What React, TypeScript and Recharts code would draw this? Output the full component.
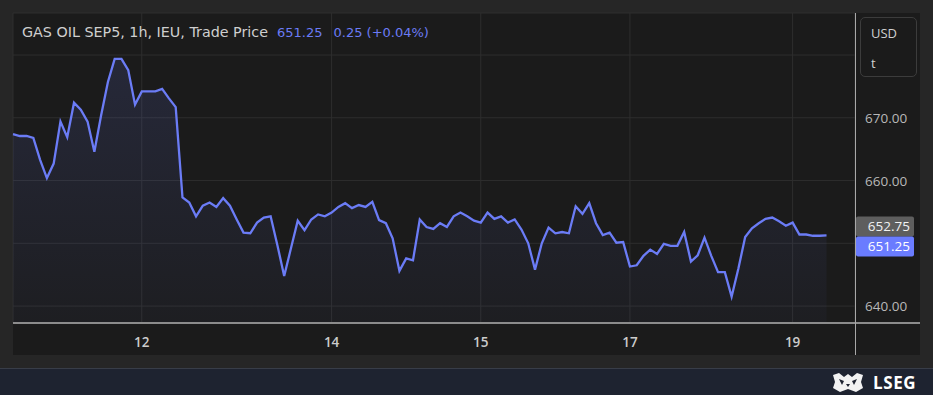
import React from "react";
import { AreaChart, Area, XAxis, YAxis, CartesianGrid, ReferenceLine } from "recharts";

// hourly trade prices, GAS OIL SEP5
const prices: number[] = [
  667.4, 667.1, 667.1, 666.8, 663.3, 660.4, 662.7, 669.4, 666.9, 672.4,
  671.3, 669.4, 664.6, 670.4, 675.7, 679.4, 679.4, 677.6, 672.1, 674.2,
  674.2, 674.2, 674.6, 673.1, 671.7, 657.3, 656.5, 654.3, 656.0, 656.5,
  655.8, 657.2, 656.0, 653.8, 651.7, 651.6, 653.3, 654.1, 654.3, 649.7,
  644.8, 649.2, 653.6, 652.1, 653.8, 654.6, 654.3, 654.9, 655.8, 656.4,
  655.6, 656.1, 655.8, 656.6, 653.7, 653.2, 650.8, 645.6, 647.6, 647.3,
  653.8, 652.6, 652.3, 653.2, 652.6, 654.3, 654.9, 654.3, 653.6, 653.3,
  654.9, 653.9, 654.3, 653.3, 653.8, 652.2, 650.0, 645.8, 650.0, 652.5,
  651.6, 651.8, 651.6, 655.9, 654.7, 656.4, 653.2, 651.3, 651.7, 650.1,
  650.2, 646.3, 646.5, 648.0, 649.0, 648.3, 649.9, 649.6, 649.6, 651.8,
  647.1, 648.1, 650.9, 648.0, 645.4, 645.4, 641.5, 646.0, 651.0, 652.4,
  653.2, 653.9, 654.1, 653.5, 652.8, 653.3, 651.4, 651.4, 651.2, 651.2,
  651.25,
];

const dayTickIndex = [19, 47, 69, 91, 115];
const dayTickLabels = ["12", "14", "15", "17", "19"];
const priceTicks = [640, 650, 660, 670, 680];
const shownPriceTicks = [640, 660, 670];

const lastPrice = 651.25;
const refPrice = 652.75;
const change = 0.25;
const changePct = 0.04;

const data = prices.map((price, i) => ({ i, price }));

const LINE = "#6b7cf6";
const FONT = "'Open Sans', sans-serif";
const TITLE_FONT = "'DejaVu Sans', sans-serif";

const PriceTick = (props: any) => {
  const { x, y, payload } = props;
  if (!shownPriceTicks.includes(payload.value)) return <g />;
  return (
    <text x={x} y={y} dy={5} fill="#b8b8b8" fontSize={13.5} fontFamily={FONT} textAnchor="start">
      {payload.value.toFixed(2)}
    </text>
  );
};

const PriceTags = (props: any) => {
  const vb = props.viewBox;
  const x = vb.x + vb.width + 1;
  const cy = vb.y;
  return (
    <g fontFamily={FONT} fontSize={13.5}>
      <rect x={x} y={cy - 9.5} width={58} height={20} fill="#5e5e5e" rx={2} />
      <text x={x + 54} y={cy + 5} fill="#f2f2f2" textAnchor="end">
        {refPrice.toFixed(2)}
      </text>
      <rect x={x} y={cy + 10.5} width={58} height={20} fill="#6a7cff" rx={2} />
      <text x={x + 54} y={cy + 25} fill="#ffffff" textAnchor="end">
        {lastPrice.toFixed(2)}
      </text>
    </g>
  );
};

export default function App() {
  return (
    <div
      style={{
        position: "absolute",
        left: 0,
        top: 0,
        width: 933,
        height: 395,
        background: "#262626",
        fontFamily: FONT,
        overflow: "hidden",
      }}
    >
      <div style={{ position: "absolute", left: 13, top: 13, width: 907, height: 342, background: "#1b1b1b" }} />
      <div style={{ position: "absolute", left: 0, top: 0 }}>
        <AreaChart width={933} height={355} data={data} margin={{ top: 13, right: 13, bottom: 0, left: 13 }}>
          <defs>
            <linearGradient id="gasFill" x1="0" y1="0" x2="0" y2="1">
              <stop offset="0%" stopColor={LINE} stopOpacity={0.23} />
              <stop offset="100%" stopColor={LINE} stopOpacity={0.05} />
            </linearGradient>
          </defs>
          <CartesianGrid stroke="#2e2e2e" strokeWidth={1} />
          <XAxis
            dataKey="i"
            type="number"
            domain={[0, 124.2]}
            ticks={dayTickIndex}
            tickFormatter={(v: number) => dayTickLabels[dayTickIndex.indexOf(v)]}
            height={32}
            axisLine={false}
            tickLine={false}
            tickMargin={8}
            tick={{ fill: "#cccccc", fontSize: 13.5, fontFamily: FONT, fontWeight: 600 }}
          />
          <YAxis
            orientation="right"
            type="number"
            width={65}
            domain={[637.3, 686.7]}
            ticks={priceTicks}
            axisLine={false}
            tickLine={false}
            tickSize={0}
            tickMargin={10}
            tick={<PriceTick />}
          />
          <ReferenceLine y={refPrice} strokeOpacity={0} label={<PriceTags />} />
          <Area
            type="linear"
            dataKey="price"
            stroke={LINE}
            strokeWidth={2.3}
            fill="url(#gasFill)"
            dot={false}
            activeDot={false}
            isAnimationActive={false}
          />
        </AreaChart>
      </div>
      {/* axis frame lines */}
      <div style={{ position: "absolute", left: 13, top: 322, width: 907, height: 1.5, background: "#8c8c8c" }} />
      <div style={{ position: "absolute", left: 855, top: 13, width: 1, height: 342, background: "#a8a8a8" }} />
      {/* title */}
      <div
        style={{
          position: "absolute",
          left: 22,
          top: 23,
          fontSize: 14.3,
          fontFamily: TITLE_FONT,
          color: "#cfcfcf",
          whiteSpace: "nowrap",
          lineHeight: "18px",
        }}
      >
        GAS OIL SEP5, 1h, IEU, Trade Price
        <span style={{ color: LINE, marginLeft: 9, fontSize: 13 }}>{lastPrice.toFixed(2)}</span>
        <span style={{ color: LINE, marginLeft: 11, fontSize: 13 }}>
          {change.toFixed(2)} (+{changePct.toFixed(2)}%)
        </span>
      </div>
      {/* currency / unit box */}
      <div
        style={{
          position: "absolute",
          left: 860,
          top: 17,
          width: 55,
          height: 58,
          border: "1px solid #3c3c3c",
          borderRadius: 5,
          color: "#d0d0d0",
          fontSize: 13,
        }}
      >
        <div style={{ position: "absolute", left: 10, top: 6 }}>USD</div>
        <div style={{ position: "absolute", left: 10, top: 36 }}>t</div>
      </div>
      {/* footer */}
      <div style={{ position: "absolute", left: 0, top: 368, width: 933, height: 27, background: "#1e2330", borderTop: "1px solid #383d48" }}>
        <svg style={{ position: "absolute", left: 830, top: 3 }} width={36} height={21}>
          <path d="M3 3 L9 1 L14 5 L18 2 L22 5 L27 1 L33 3 L31 10 L33 16 L26 20 L18 17 L10 20 L3 16 L5 10 Z" fill="#f2f2f2" />
          <path d="M9 7 L14 9 L12 13 Z M22 9 L27 7 L24 13 Z M16 12 L20 12 L18 15 Z" fill="#1e2330" />
        </svg>
        <div style={{ position: "absolute", left: 873, top: 2, color: "#ffffff", fontSize: 17, fontWeight: 700, letterSpacing: 0.6 }}>
          LSEG
        </div>
      </div>
    </div>
  );
}
